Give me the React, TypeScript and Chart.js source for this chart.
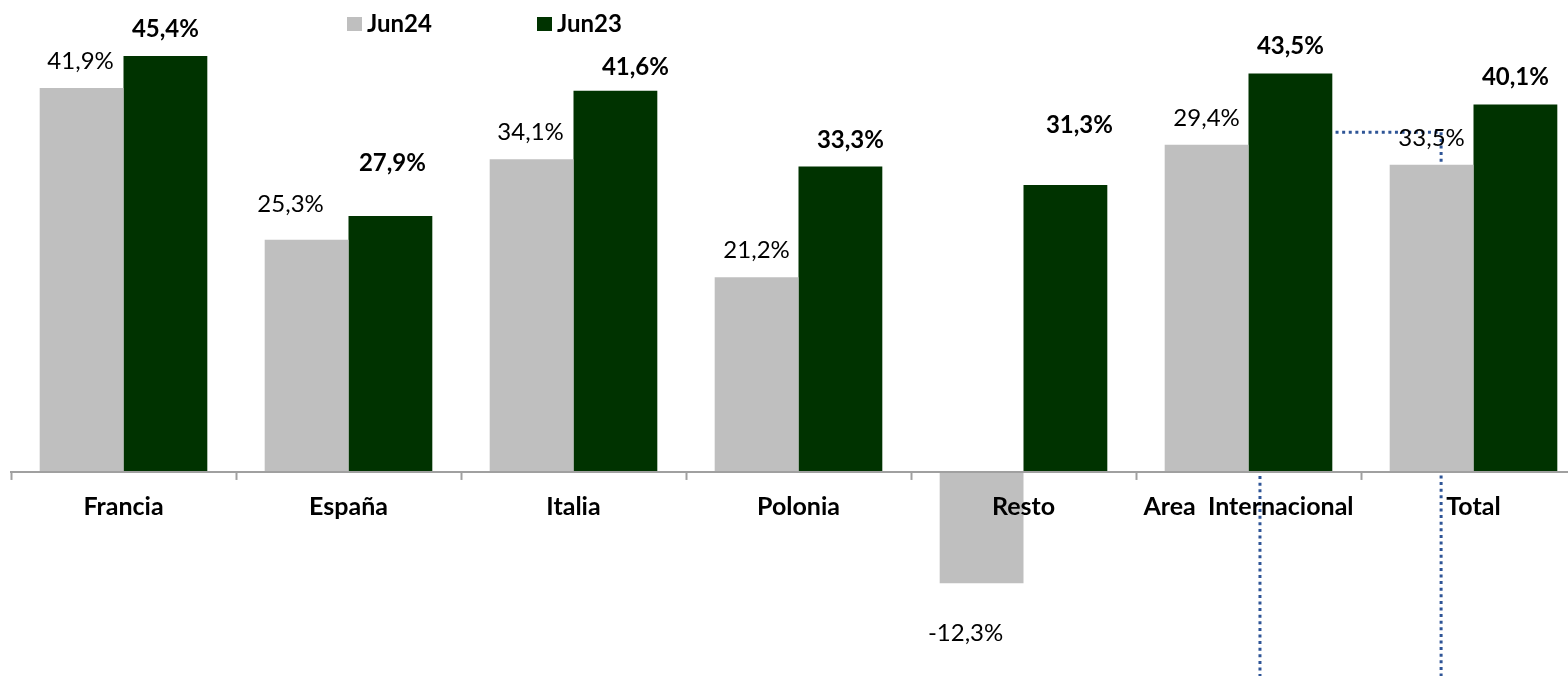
import React, { useEffect, useRef } from "react";
import { Chart, registerables } from "chart.js";

Chart.register(...registerables);

const categories = ["Francia", "España", "Italia", "Polonia", "Resto", "Area  Internacional", "Total"];
const seriesNames = ["Jun24", "Jun23"];
const jun24Values = [41.9, 25.3, 34.1, 21.2, -12.3, 35.7, 33.5];
const jun23Values = [45.4, 27.9, 41.6, 33.3, 31.3, 43.5, 40.1];
const jun24Labels = ["41,9%", "25,3%", "34,1%", "21,2%", "-12,3%", "29,4%", "33,5%"];
const jun23Labels = ["45,4%", "27,9%", "41,6%", "33,3%", "31,3%", "43,5%", "40,1%"];
const yMin = -22;
const yMax = 50;

const FONT = "Lato, 'Noto Sans', sans-serif";
const GRAY = "#BFBFBF";
const GREEN = "#003300";

// label nudges [dx, extra lift] in px (styling, not data)
const nudges24 = [[-1, 0], [-16, 9], [-1, 0], [0, 0], [-16, 0], [0, 0], [0, 0]];
const nudges23 = [[0, 0], [2, 26], [20, -3], [10, 0], [14, 33], [0, 0], [0, 0]];

// dotted connector in data units (category index, value)
const connector = [
  [5.051, -24],
  [5.051, 37.06],
  [5.856, 37.06],
  [5.856, -24],
];

const drawPlugin = {
  id: "customDraw",
  beforeDatasetsDraw(chart: any) {
    const ctx = chart.ctx;
    const xs = chart.scales.x;
    const ys = chart.scales.y;
    ctx.save();
    ctx.strokeStyle = "#2F5597";
    ctx.lineWidth = 3;
    ctx.setLineDash([3, 3.6]);
    ctx.beginPath();
    connector.forEach(([cx, cy], i) => {
      const px = xs.getPixelForValue(cx);
      const py = ys.getPixelForValue(cy);
      if (i === 0) ctx.moveTo(px, py);
      else ctx.lineTo(px, py);
    });
    ctx.stroke();
    ctx.restore();
  },
  afterDatasetsDraw(chart: any) {
    const ctx = chart.ctx;
    const xs = chart.scales.x;
    const ys = chart.scales.y;
    const zero = ys.getPixelForValue(0);
    ctx.save();
    // axis line
    ctx.strokeStyle = "#A0A0A0";
    ctx.lineWidth = 2;
    ctx.beginPath();
    ctx.moveTo(xs.getPixelForValue(-0.5) - 1, zero + 1);
    ctx.lineTo(chart.width, zero + 1);
    ctx.stroke();
    // ticks between categories
    for (let i = 0; i <= categories.length; i++) {
      const tx = Math.round(xs.getPixelForValue(i - 0.5)) + 0.5;
      ctx.beginPath();
      ctx.lineWidth = 2;
      ctx.moveTo(tx, zero + 1);
      ctx.lineTo(tx, zero + 9);
      ctx.stroke();
    }
    // category labels
    ctx.fillStyle = "#000";
    ctx.textAlign = "center";
    ctx.textBaseline = "alphabetic";
    ctx.font = `bold 25px ${FONT}`;
    categories.forEach((c, i) => {
      ctx.fillText(c, xs.getPixelForValue(i), zero + 44);
    });
    // data labels
    const sets = [
      { labels: jun24Labels, nudges: nudges24, weight: "normal" },
      { labels: jun23Labels, nudges: nudges23, weight: "bold" },
    ];
    sets.forEach((s, di) => {
      const meta = chart.getDatasetMeta(di);
      const values = chart.data.datasets[di].data as number[];
      ctx.font = `${s.weight} 24px ${FONT}`;
      meta.data.forEach((bar: any, i: number) => {
        const [dx, lift] = s.nudges[i];
        const v = values[i];
        const y = v >= 0 ? bar.y - 19 - lift : bar.y + 58 - lift;
        ctx.fillText(s.labels[i], bar.x + dx, y);
      });
    });
    // legend
    const legendX = [347, 537];
    chart.data.datasets.forEach((ds: any, i: number) => {
      const lx = legendX[i];
      ctx.fillStyle = ds.backgroundColor;
      ctx.fillRect(lx, 17, 15, 14);
      ctx.fillStyle = "#000";
      ctx.textAlign = "left";
      ctx.font = `bold 24px ${FONT}`;
      ctx.fillText(ds.label, lx + 20, 32);
    });
    ctx.restore();
  },
};

export default function App() {
  const ref = useRef<HTMLCanvasElement>(null);
  useEffect(() => {
    if (!ref.current) return;
    const chart = new Chart(ref.current, {
      type: "bar",
      data: {
        labels: categories,
        datasets: [
          {
            label: seriesNames[0],
            data: jun24Values,
            backgroundColor: GRAY,
            borderWidth: 0,
            barPercentage: 1,
            categoryPercentage: 0.745,
          },
          {
            label: seriesNames[1],
            data: jun23Values,
            backgroundColor: GREEN,
            borderWidth: 0,
            barPercentage: 1,
            categoryPercentage: 0.745,
          },
        ],
      },
      options: {
        responsive: true,
        maintainAspectRatio: false,
        animation: false,
        layout: { padding: { left: 11, right: 14, top: 14, bottom: 4 } },
        scales: {
          x: { type: "category", display: false, offset: true },
          y: { display: false, min: yMin, max: yMax },
        },
        plugins: {
          legend: { display: false },
          tooltip: { enabled: false },
        },
      },
      plugins: [drawPlugin],
    });
    return () => chart.destroy();
  }, []);
  return (
    <div
      style={{
        position: "absolute",
        left: 0,
        top: 0,
        width: 1568,
        height: 676,
        overflow: "hidden",
        background: "#fff",
      }}
    >
      <div style={{ position: "relative", width: 1600, height: 676 }}>
        <canvas ref={ref} />
      </div>
    </div>
  );
}
